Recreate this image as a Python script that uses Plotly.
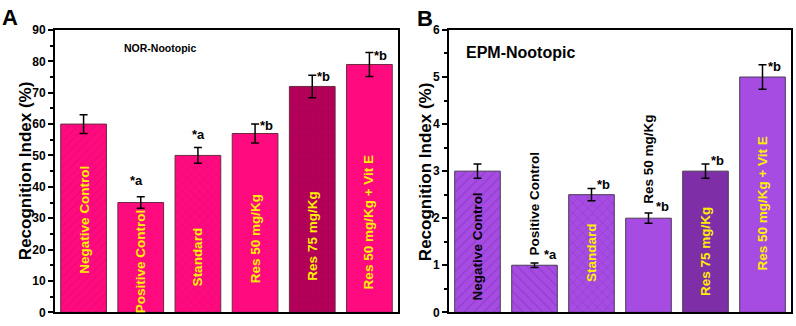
import plotly.graph_objects as go

# ---------------- data ----------------
groups = ["Negative Control", "Positive Control", "Standard",
          "Res 50 mg/Kg", "Res 75 mg/Kg", "Res 50 mg/Kg + Vit E"]

nor_values = [60, 35, 50, 57, 72, 79]
nor_errors = [3.0, 1.8, 2.5, 3.0, 3.6, 3.8]
nor_sig = ["", "*a", "*a", "*b", "*b", "*b"]

epm_values = [3.0, 1.0, 2.5, 2.0, 3.0, 5.0]
epm_errors = [0.15, 0.05, 0.13, 0.11, 0.15, 0.26]
epm_sig = ["", "*a", "*b", "*b", "*b", "*b"]

nor_ticks = [0, 10, 20, 30, 40, 50, 60, 70, 80, 90]
epm_ticks = [0, 1, 2, 3, 4, 5, 6]

# ---------------- styling ----------------
PINK = "#FF0A7F"
MAROON = "#B5005A"
PURPLE = "#A64CE3"
DPURPLE = "#7E2FA8"
YEL = "#FFF000"
FONT = "Arial, Liberation Sans, sans-serif"

nor_colors = [PINK, PINK, PINK, PINK, MAROON, PINK]
nor_shapes = ["/", "", "x", "", "+", ""]
nor_fg = ["#C8005F", PINK, "#C8005F", PINK, "#8A0044", PINK]

epm_colors = [PURPLE, PURPLE, PURPLE, PURPLE, DPURPLE, PURPLE]
epm_shapes = ["/", "\\", "x", "", "", ""]
epm_fg = ["#7A2AAE", "#7A2AAE", "#7A2AAE", PURPLE, DPURPLE, PURPLE]

# in-bar / above-bar label placement (y centre, colour)
nor_lab_y = [29.4, 16.2, 17.8, 23.3, 24.2, 28.8]
nor_lab_c = [YEL] * 6
epm_lab_y = [1.39, 2.30, 1.27, 3.25, 1.29, 2.30]
epm_lab_c = ["black", "black", YEL, "black", YEL, YEL]

# significance marker placement: (y, xshift)
nor_sig_pos = [None, (42.0, -4), (56.6, 1), (59.6, 11), (75.2, 11), (81.9, 11)]
epm_sig_pos = [None, (1.22, 16), (2.71, 12), (2.24, 14), (3.22, 12), (5.22, 12)]

fig = go.Figure()

# one trace per bar so each bar can carry its own hatch colour
for i, g in enumerate(groups):
    fig.add_trace(go.Bar(
        x=[g], y=[nor_values[i]], width=0.8,
        marker=dict(color=nor_colors[i], line=dict(color="#6a2a40", width=1),
                    pattern=dict(shape=nor_shapes[i], fgcolor=nor_fg[i],
                                 fillmode="overlay", fgopacity=0.45, size=6, solidity=0.15)),
        error_y=dict(type="data", array=[nor_errors[i]], color="black", thickness=1.5, width=4),
        xaxis="x", yaxis="y", showlegend=False))
    fig.add_trace(go.Bar(
        x=[g], y=[epm_values[i]], width=0.8,
        marker=dict(color=epm_colors[i], line=dict(color="#4a3a55", width=1),
                    pattern=dict(shape=epm_shapes[i], fgcolor=epm_fg[i],
                                 fillmode="overlay", fgopacity=0.55, size=7, solidity=0.15)),
        error_y=dict(type="data", array=[epm_errors[i]], color="black", thickness=1.5, width=4),
        xaxis="x2", yaxis="y2", showlegend=False))

ann = []
C = dict(xanchor="center", yanchor="middle", showarrow=False)
LBL = 13.5
for i, g in enumerate(groups):
    ann.append(dict(x=g, y=nor_lab_y[i], xref="x", yref="y", text=g, textangle=-90,
                    font=dict(family=FONT, size=LBL, color=nor_lab_c[i], weight="bold"), **C))
    ann.append(dict(x=g, y=epm_lab_y[i], xref="x2", yref="y2", text=g, textangle=-90,
                    font=dict(family=FONT, size=LBL, color=epm_lab_c[i], weight="bold"), **C))
    if nor_sig[i]:
        yy, xs = nor_sig_pos[i]
        ann.append(dict(x=g, y=yy, xref="x", yref="y", text=nor_sig[i], xshift=xs,
                        font=dict(family=FONT, size=13, color="black", weight="bold"), **C))
    if epm_sig[i]:
        yy, xs = epm_sig_pos[i]
        ann.append(dict(x=g, y=yy, xref="x2", yref="y2", text=epm_sig[i], xshift=xs,
                        font=dict(family=FONT, size=13, color="black", weight="bold"), **C))

W, H = 796, 326
def px(x, y):
    return x / W, 1 - y / H

for txt, (cx, cy), size in [("A", (10, 11), 22), ("B", (425, 12), 22),
                            ("NOR-Nootopic", (160, 43), 10.5), ("EPM-Nootopic", (520, 48), 16)]:
    xx, yy = px(cx, cy)
    ann.append(dict(x=xx, y=yy, xref="paper", yref="paper", text=txt,
                    font=dict(family=FONT, size=size, color="black", weight="bold"), **C))

for cx in (25, 425):
    xx, yy = px(cx, 171.5)
    ann.append(dict(x=xx, y=yy, xref="paper", yref="paper", text="Recognition Index (%)",
                    textangle=-90,
                    font=dict(family=FONT, size=17, color="black", weight="bold"), **C))

xax = dict(showline=True, linecolor="black", linewidth=2, mirror=True,
           showticklabels=False, ticks="", showgrid=False, zeroline=False,
           range=[-0.5, 5.5], type="category", categoryorder="array", categoryarray=groups)
yax_common = dict(showline=True, linecolor="black", linewidth=2, mirror=True,
                  ticks="outside", ticklen=5, tickwidth=1.5, tickcolor="black",
                  showgrid=False, zeroline=False, ticklabeloverflow="allow",
                  tickfont=dict(family=FONT, size=12, color="black", weight="bold"))

fig.update_layout(
    width=W, height=H, margin=dict(l=0, r=0, t=0, b=0),
    paper_bgcolor="white", plot_bgcolor="white",
    barmode="overlay",
    xaxis=dict(domain=[55 / W, 398 / W], anchor="y", **xax),
    xaxis2=dict(domain=[449 / W, 791 / W], anchor="y2", **xax),
    yaxis=dict(domain=[1 - 319 / H, 1 - 24 / H], anchor="x", range=[0, 90],
               tickvals=nor_ticks,
               minor=dict(dtick=5, ticks="outside", ticklen=3, tickcolor="black"),
               **yax_common),
    yaxis2=dict(domain=[1 - 319 / H, 1 - 24 / H], anchor="x2", range=[0, 6],
                tickvals=epm_ticks,
                minor=dict(dtick=0.5, ticks="outside", ticklen=3, tickcolor="black"),
                **yax_common),
    annotations=ann,
)

fig.write_html("out.html", config={"displayModeBar": False},
               post_script="document.body.style.margin='0';document.body.style.padding='0';"
                           "document.documentElement.style.overflow='hidden';")
